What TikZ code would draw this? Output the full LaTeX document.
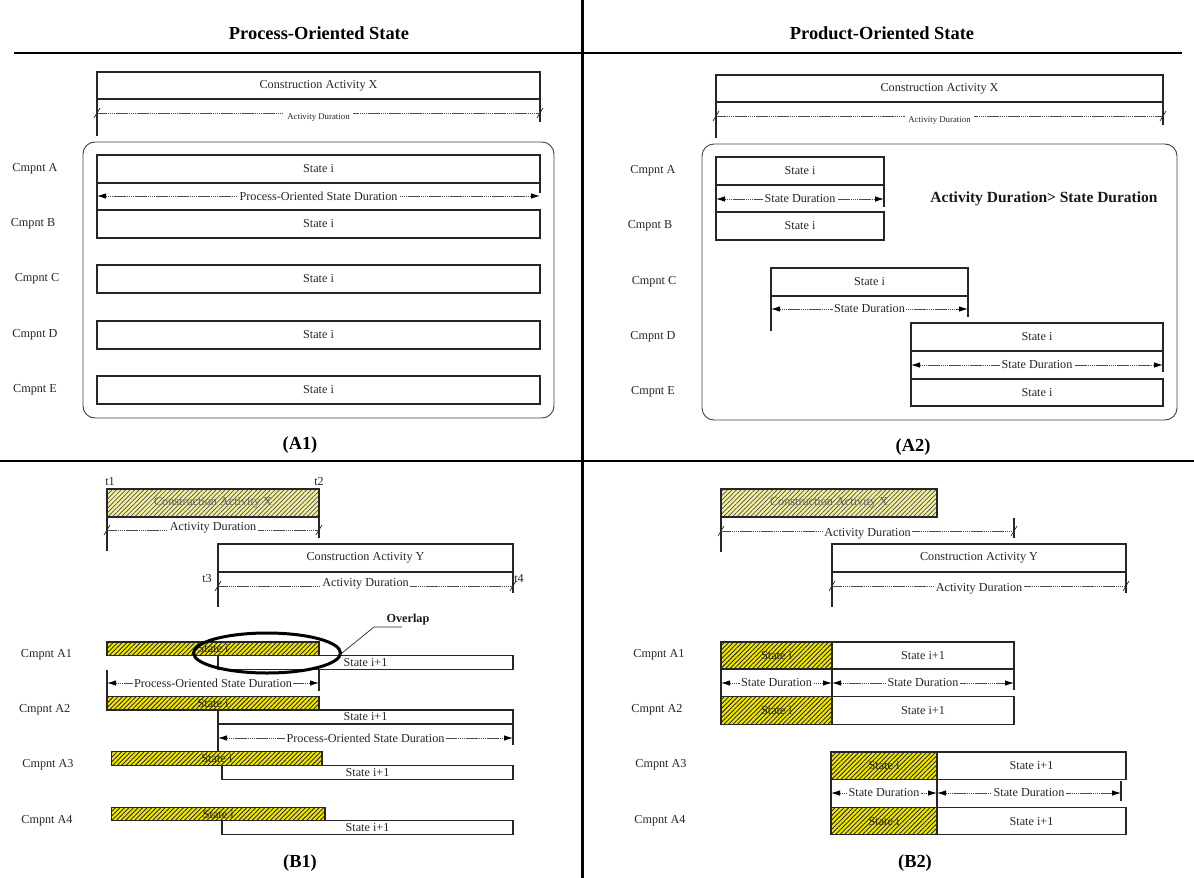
\documentclass[tikz,border=0pt]{standalone}
\usepackage{fontspec}
\setmainfont{Liberation Serif}
\usetikzlibrary{arrows.meta,patterns.meta,shapes.geometric}
\definecolor{ybright}{RGB}{240,232,0}
\definecolor{ypale}{RGB}{243,240,160}
\newcommand\fsn{\fontsize{12.2}{14}\selectfont}
\newcommand\fssm{\fontsize{8.8}{10}\selectfont}
\newcommand\fsttl{\fontsize{18.4}{20}\selectfont\bfseries}
\newcommand\fsbig{\fontsize{15.5}{17}\selectfont\bfseries}
\newcommand\fsov{\fontsize{12.2}{14}\selectfont\bfseries}
\begin{document}
\begin{tikzpicture}[x=1pt,y=-1pt,
  frame/.style={draw=black, line width=2.5pt},
  box/.style={draw=black!85, line width=1.3pt, inner sep=0pt, outer sep=0pt, anchor=north west, font=\fsn, text=black!85},
  hatchbright/.style={box, preaction={fill=ybright}, pattern={Lines[angle=45,distance=3.2pt,line width=0.9pt]}, pattern color=black!85},
  hatchpale/.style={box, preaction={fill=ypale}, pattern={Lines[angle=45,distance=3.2pt,line width=0.7pt]}, pattern color=black!70, text=black!60},
  ext/.style={draw=black!85, line width=1.2pt},
  tick/.style={draw=black!85, line width=0.7pt},
  dimline/.style={draw=black!70, line width=0.9pt, dash pattern=on 1.6pt off 0.5pt},
  dimarr/.style={dimline, {Latex[length=9pt,width=5.5pt,black]}-{Latex[length=9pt,width=5.5pt,black]}},
  dlab/.style={fill=white, inner xsep=1.5pt, inner ysep=1pt, font=\fsn, text=black!85},
  lab/.style={font=\fsn, text=black!85},
  ttl/.style={font=\fsttl, text=black},
  roundbox/.style={draw=black!75, line width=0.9pt, rounded corners=12pt}
]
\useasboundingbox (0,0) rectangle (1194,878);
% ---------- frame ----------
\draw[frame] (14,53) -- (1182,53);
\draw[frame, line width=3pt] (582,0) -- (582,878);
\draw[frame] (0,461) -- (1194,461);
\node[ttl] (ttlA) at (319,33) {Process-Oriented State};
\node[ttl] (ttlB) at (882,33) {Product-Oriented State};

% ---------- A1 ----------
\node[box, minimum width=443pt, minimum height=27pt] (a1x) at (97,72) {Construction Activity X};
\draw[ext] (a1x.south west) -- ++(0,37);
\draw[ext] (a1x.south east) -- ++(0,23);
\coordinate (a1d1) at (97,113); \coordinate (a1d2) at (540,113);
\draw[dimline] (a1d1) -- node[dlab, font=\fssm, minimum height=18pt, yshift=-5pt, inner xsep=3pt] (a1dl) {Activity Duration} (a1d2);
\draw[tick] (a1d1) +(-3,5) -- +(3,-5);
\draw[tick] (a1d2) +(-3,5) -- +(3,-5);
\draw[roundbox] (83,142) rectangle (554,418);
\foreach \n/\y in {a/155,b/210,c/265,d/321,e/376}
  \node[box, minimum width=443pt, minimum height=28pt] (a1s\n) at (97,\y) {State i};
\draw[ext] (a1sa.south west) -- (a1sb.north west);
\draw[ext] (a1sa.south east) -- ++(0,10);
\coordinate (a1p1) at (97,196); \coordinate (a1p2) at (540,196);
\draw[dimarr] (a1p1) -- node[dlab] (a1pl) {Process-Oriented State Duration} (a1p2);
\node[lab] (a1la) at (35,169) {Cmpnt A};
\node[lab] (a1lb) at (33,224) {Cmpnt B};
\node[lab] (a1lc) at (37,279) {Cmpnt C};
\node[lab] (a1ld) at (35,335) {Cmpnt D};
\node[lab] (a1le) at (35,390) {Cmpnt E};
\node[ttl] (capA1) at (300,445) {(A1)};

% ---------- A2 ----------
\node[box, minimum width=447pt, minimum height=27pt] (a2x) at (716,75) {Construction Activity X};
\draw[ext] (a2x.south west) -- ++(0,36);
\draw[ext] (a2x.south east) -- ++(0,23);
\coordinate (a2d1) at (716,116); \coordinate (a2d2) at (1163,116);
\draw[dimline] (a2d1) -- node[dlab, font=\fssm, minimum height=18pt, yshift=-5pt, inner xsep=3pt] (a2dl) {Activity Duration} (a2d2);
\draw[tick] (a2d1) +(-3,5) -- +(3,-5);
\draw[tick] (a2d2) +(-3,5) -- +(3,-5);
\draw[roundbox] (702,144) rectangle (1177,420);
\node[box, minimum width=168pt, minimum height=28pt] (a2sa) at (716,157) {State i};
\node[box, minimum width=168pt, minimum height=28pt] (a2sb) at (716,212) {State i};
\draw[ext] (a2sa.south west) -- (a2sb.north west);
\draw[ext] (a2sa.south east) -- ++(0,22);
\coordinate (a2p1) at (716,199); \coordinate (a2p2) at (884,199);
\draw[dimarr] (a2p1) -- node[dlab] (a2pl) {State Duration} (a2p2);
\node[font=\fsbig, text=black!90] (a2big) at (1044,199) {Activity Duration> State Duration};
\node[box, minimum width=197pt, minimum height=28pt] (a2sc) at (771,268) {State i};
\draw[ext] (a2sc.south west) -- ++(0,35);
\draw[ext] (a2sc.south east) -- ++(0,21);
\coordinate (a2q1) at (771,309); \coordinate (a2q2) at (968,309);
\draw[dimarr] (a2q1) -- node[dlab] (a2ql) {State Duration} (a2q2);
\node[box, minimum width=252pt, minimum height=28pt] (a2sd) at (911,323) {State i};
\node[box, minimum width=252pt, minimum height=27pt] (a2se) at (911,379) {State i};
\draw[ext] (a2sd.south west) -- (a2se.north west);
\draw[ext] (a2sd.south east) -- ++(0,21);
\coordinate (a2r1) at (911,365); \coordinate (a2r2) at (1163,365);
\draw[dimarr] (a2r1) -- node[dlab] (a2rl) {State Duration} (a2r2);
\node[lab] (a2la) at (653,171) {Cmpnt A};
\node[lab] (a2lb) at (650,226) {Cmpnt B};
\node[lab] (a2lc) at (654,282) {Cmpnt C};
\node[lab] (a2ld) at (653,337) {Cmpnt D};
\node[lab] (a2le) at (653,392) {Cmpnt E};
\node[ttl] (capA2) at (913,447) {(A2)};

% ---------- B1 ----------
\node[lab] (bt1) at (110,482) {t1};
\node[lab] (bt2) at (319,482) {t2};
\node[hatchpale, minimum width=212pt, minimum height=28pt] (b1x) at (107,489) {Construction Activity X};
\draw[ext] (b1x.south west) -- ++(0,34);
\draw[ext] (b1x.south east) -- ++(0,21);
\coordinate (b1d1) at (107,530); \coordinate (b1d2) at (319,530);
\draw[dimline] (b1d1) -- node[dlab, yshift=2pt] (b1dl) {Activity Duration} (b1d2);
\draw[tick] (b1d1) +(-3,5) -- +(3,-5);
\draw[tick] (b1d2) +(-3,5) -- +(3,-5);
\node[box, minimum width=295pt, minimum height=28pt] (b1y) at (218,544) {Construction Activity Y};
\draw[ext] (b1y.south west) -- ++(0,35);
\draw[ext] (b1y.south east) -- ++(0,21);
\node[lab] (bt3) at (207,579) {t3};
\node[lab] (bt4) at (519,579) {t4};
\coordinate (b1e1) at (218,586); \coordinate (b1e2) at (513,586);
\draw[dimline] (b1e1) -- node[dlab, yshift=2pt] (b1el) {Activity Duration} (b1e2);
\draw[tick] (b1e1) +(-3,5) -- +(3,-5);
\draw[tick] (b1e2) +(-3,5) -- +(3,-5);
% rows
\node[hatchbright, minimum width=212pt, minimum height=13.5pt] (b1a1h) at (107,642) {State i};
\node[box, minimum width=295pt, minimum height=14pt] (b1a1s) at (218,655.5) {State i+1};
\node[hatchbright, minimum width=212pt, minimum height=13.5pt] (b1a2h) at (107,696.5) {State i};
\node[box, minimum width=295pt, minimum height=14pt] (b1a2s) at (218,710) {State i+1};
\node[hatchbright, minimum width=210.5pt, minimum height=14pt] (b1a3h) at (111.5,751.5) {State i};
\node[box, minimum width=291pt, minimum height=14pt] (b1a3s) at (222,765.5) {State i+1};
\node[hatchbright, minimum width=213.5pt, minimum height=13.5pt] (b1a4h) at (111.5,807.3) {State i};
\node[box, minimum width=291pt, minimum height=14pt] (b1a4s) at (222,820.8) {State i+1};
% dims
\draw[ext] (b1a1h.west |- b1a1s.south) -- (b1a2h.north west);
\draw[ext] (b1a1h.east |- b1a1s.south) -- ++(0,21);
\coordinate (b1p1) at (107,683); \coordinate (b1p2) at (319,683);
\draw[dimarr] (b1p1) -- node[dlab] (b1pl) {Process-Oriented State Duration} (b1p2);
\draw[ext] (b1a2s.south west) -- (b1a2s.south west |- b1a3h.north);
\draw[ext] (b1a2s.south east) -- ++(0,21);
\coordinate (b1q1) at (218,738); \coordinate (b1q2) at (513,738);
\draw[dimarr] (b1q1) -- node[dlab] (b1ql) {Process-Oriented State Duration} (b1q2);
% overlap
\node[draw=black, line width=3pt, ellipse, minimum width=147pt, minimum height=40pt, inner sep=0pt] (ell) at (267,653) {};
\node[font=\fsov, text=black!90] (ovl) at (408,620) {Overlap};
\coordinate (ovA) at (402,627); \coordinate (ovB) at (374,627);
\draw[black!85, line width=0.7pt] (ovA) -- (ovB) -- (ell.east);
\node[lab] (b1la) at (46.5,655) {Cmpnt A1};
\node[lab] (b1lb) at (44.6,710) {Cmpnt A2};
\node[lab] (b1lc) at (48,765) {Cmpnt A3};
\node[lab] (b1ld) at (47,821) {Cmpnt A4};
\node[ttl] (capB1) at (300,863) {(B1)};

% ---------- B2 ----------
\node[hatchpale, minimum width=216pt, minimum height=28pt] (b2x) at (721,489) {Construction Activity X};
\draw[ext] (b2x.south west) -- ++(0,35);
\coordinate (b2d1) at (721,531); \coordinate (b2d2) at (1014,531);
\draw[ext] (1014,518) -- (1014,538);
\draw[dimline] (b2d1) -- node[dlab, yshift=-3pt] (b2dl) {Activity Duration} (b2d2);
\draw[tick] (b2d1) +(-3,5) -- +(3,-5);
\draw[tick] (b2d2) +(-3,5) -- +(3,-5);
\node[box, minimum width=294pt, minimum height=28pt] (b2y) at (832,544) {Construction Activity Y};
\draw[ext] (b2y.south west) -- ++(0,35);
\draw[ext] (b2y.south east) -- ++(0,21);
\coordinate (b2e1) at (832,586); \coordinate (b2e2) at (1126,586);
\draw[dimline] (b2e1) -- node[dlab, yshift=-3pt] (b2el) {Activity Duration} (b2e2);
\draw[tick] (b2e1) +(-3,5) -- +(3,-5);
\draw[tick] (b2e2) +(-3,5) -- +(3,-5);
% rows
\node[hatchbright, minimum width=111pt, minimum height=27pt] (b2a1h) at (721,642) {State i};
\node[box, minimum width=182pt, minimum height=27pt] (b2a1s) at (832,642) {State i+1};
\node[hatchbright, minimum width=111pt, minimum height=28pt] (b2a2h) at (721,696.5) {State i};
\node[box, minimum width=182pt, minimum height=28pt] (b2a2s) at (832,696.5) {State i+1};
\node[hatchbright, minimum width=106pt, minimum height=27.5pt] (b2a3h) at (831,752) {State i};
\node[box, minimum width=189pt, minimum height=27.5pt] (b2a3s) at (937,752) {State i+1};
\node[hatchbright, minimum width=106pt, minimum height=27.5pt] (b2a4h) at (831,807.3) {State i};
\node[box, minimum width=189pt, minimum height=27.5pt] (b2a4s) at (937,807.3) {State i+1};
% dims
\draw[ext] (b2a1h.south west) -- (b2a2h.north west);
\draw[ext] (b2a1h.south east) -- (b2a2h.north east);
\draw[ext] (b2a1s.south east) -- ++(0,21);
\coordinate (b2p1) at (721,683); \coordinate (b2p2) at (832,683); \coordinate (b2p3) at (1014,683);
\draw[dimarr] (b2p1) -- node[dlab] (b2pl) {State Duration} (b2p2);
\draw[dimarr] (b2p2) -- node[dlab] (b2pm) {State Duration} (b2p3);
\draw[ext] (b2a3h.south west) -- (b2a4h.north west);
\draw[ext] (b2a3h.south east) -- (b2a4h.north east);
\coordinate (b2q1) at (831,793); \coordinate (b2q2) at (937,793); \coordinate (b2q3) at (1121,793);
\draw[ext] (1121,781) -- (1121,801);
\draw[dimarr] (b2q1) -- node[dlab] (b2ql) {State Duration} (b2q2);
\draw[dimarr] (b2q2) -- node[dlab] (b2qm) {State Duration} (b2q3);
\node[lab] (b2la) at (659,655) {Cmpnt A1};
\node[lab] (b2lb) at (657,710) {Cmpnt A2};
\node[lab] (b2lc) at (661,765) {Cmpnt A3};
\node[lab] (b2ld) at (660,821) {Cmpnt A4};
\node[ttl] (capB2) at (915,863) {(B2)};
\end{tikzpicture}
\end{document}
